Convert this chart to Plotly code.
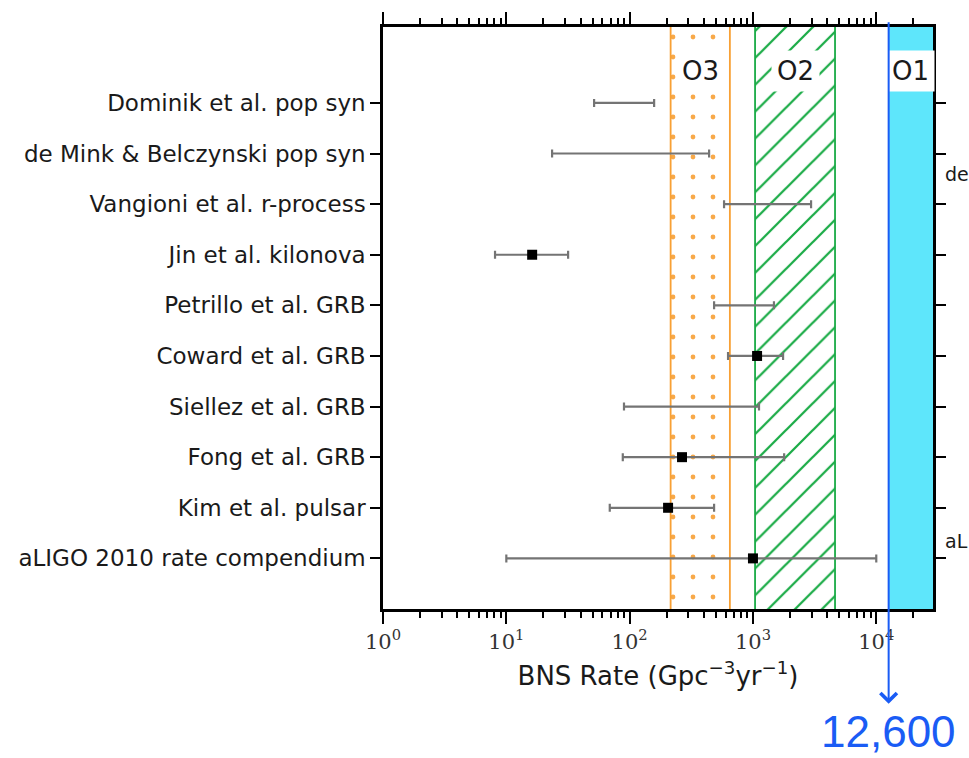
import numpy as np
import plotly.graph_objects as go

# Published BNS merger-rate estimates (Gpc^-3 yr^-1), top row first
studies = [
    "Dominik et al. pop syn",
    "de Mink & Belczynski pop syn",
    "Vangioni et al. r-process",
    "Jin et al. kilonova",
    "Petrillo et al. GRB",
    "Coward et al. GRB",
    "Siellez et al. GRB",
    "Fong et al. GRB",
    "Kim et al. pulsar",
    "aLIGO 2010 rate compendium",
]
rate_low = [51.5, 23.5, 583, 8.1, 484, 628, 90, 88, 69, 10]
rate_high = [158, 441, 2960, 31.7, 1480, 1755, 1120, 1790, 484, 10000]
rate_central = [None, None, None, 16.2, None, 1080, None, 266, 205, 1000]

# Observing-run sensitivity bands
o3_band = [215, 650]
o2_band = [1040, 4630]
o1_limit = 12600

x_tick_vals = [1, 10, 100, 1000, 10000]
x_tick_text = ["10<sup>0</sup>", "10<sup>1</sup>", "10<sup>2</sup>", "10<sup>3</sup>", "10<sup>4</sup>"]

X_MAX_LOG = 4.46
ORANGE = "#f8a035"
GREEN = "#1aab46"
CYAN = "#5ee6fb"
BLUE = "#1a5cf5"
SANS = "DejaVu Sans"
SERIF = "DejaVu Serif"

n = len(studies)
row_y = [n - i for i in range(n)]  # top row highest

fig = go.Figure()


def band(x0, x1, **kw):
    return go.Scatter(
        x=[x0, x1, x1, x0, x0],
        y=[-1, -1, n + 3, n + 3, -1],
        mode="lines",
        fill="toself",
        hoverinfo="skip",
        showlegend=False,
        **kw,
    )


fig.add_trace(band(o1_limit, 10 ** (X_MAX_LOG + 1), line=dict(width=0), fillcolor=CYAN))
fig.add_trace(band(
    o2_band[0], o2_band[1],
    line=dict(color=GREEN, width=1.8),
    fillcolor="rgba(0,0,0,0)",
    fillpattern=dict(shape="/", fgcolor=GREEN, fgopacity=1, bgcolor="white",
                     size=19, solidity=0.12),
))
fig.add_trace(band(
    o3_band[0], o3_band[1],
    line=dict(color=ORANGE, width=1.8),
    fillcolor="rgba(0,0,0,0)",
    fillpattern=dict(shape=".", fgcolor=ORANGE, fgopacity=0.9, bgcolor="white",
                     size=20, solidity=0.045),
))

# Ranges: anchored at the geometric middle, whiskers to the quoted bounds
mid = [np.sqrt(lo * hi) for lo, hi in zip(rate_low, rate_high)]
fig.add_trace(go.Scatter(
    x=mid,
    y=row_y,
    mode="markers",
    marker=dict(size=1, opacity=0),
    error_x=dict(
        type="data",
        symmetric=False,
        array=[hi - m for hi, m in zip(rate_high, mid)],
        arrayminus=[m - lo for lo, m in zip(rate_low, mid)],
        color="#747474",
        thickness=2.2,
        width=4,
    ),
    hoverinfo="skip",
    showlegend=False,
))

# Central estimates
cx = [c for c in rate_central if c is not None]
cy = [y for c, y in zip(rate_central, row_y) if c is not None]
fig.add_trace(go.Scatter(
    x=cx,
    y=cy,
    mode="markers",
    marker=dict(symbol="square", size=10, color="black"),
    showlegend=False,
))

# Run labels
label_font = dict(family=SANS, size=26, color="#1a1a1a")
for text, xl in [
    ("O3", np.log10(o3_band).mean()),
    ("O2", np.log10(o2_band).mean()),
    ("O1", (np.log10(o1_limit) + X_MAX_LOG) / 2),
]:
    fig.add_annotation(
        x=xl, y=0.925, xref="x", yref="paper", yanchor="middle", text=text,
        showarrow=False, font=label_font, bgcolor="white", borderpad=5,
    )

# O1 upper-limit marker
fig.add_annotation(
    x=np.log10(o1_limit), y=-0.163, xref="x", yref="paper",
    ax=0, ay=-683, axref="pixel", ayref="pixel",
    text="", showarrow=True, arrowhead=4, arrowsize=1.6, arrowwidth=2, arrowcolor=BLUE,
)
fig.add_annotation(
    x=np.log10(o1_limit), y=-0.21, xref="x", yref="paper",
    text=f"{o1_limit:,}", showarrow=False, yanchor="middle",
    font=dict(family="Liberation Sans", size=44, color=BLUE),
)

# Neighbouring panel labels at the right edge
for text, yy in [("de", 8.6), ("aL", 1.35)]:
    fig.add_annotation(
        x=1.0, y=yy, xref="paper", yref="y", xshift=10, xanchor="left",
        text=text, showarrow=False, font=dict(family=SANS, size=19, color="#1a1a1a"),
    )

fig.update_xaxes(
    type="log",
    range=[0, X_MAX_LOG],
    tickmode="array",
    tickvals=x_tick_vals,
    ticktext=x_tick_text,
    ticks="outside",
    ticklen=12,
    tickwidth=2,
    tickcolor="black",
    minor=dict(ticks="outside", ticklen=6, tickwidth=2, tickcolor="black", dtick="D1", showgrid=False),
    showline=True,
    linecolor="black",
    linewidth=2.5,
    mirror="allticks",
    showgrid=False,
    zeroline=False,
    tickfont=dict(family=SERIF, size=21, color="#333333"),
    title=dict(
        text="BNS Rate (Gpc<sup>\u22123</sup>yr<sup>\u22121</sup>)",
        font=dict(family=SANS, size=26, color="#1a1a1a"),
        standoff=14,
    ),
)
fig.update_yaxes(
    range=[0, n + 1.5],
    tickmode="array",
    tickvals=row_y,
    ticktext=studies,
    ticks="outside",
    ticklen=10,
    tickwidth=2,
    tickcolor="black",
    showline=True,
    linecolor="black",
    linewidth=2.5,
    mirror="allticks",
    showgrid=False,
    zeroline=False,
    tickfont=dict(family=SANS, size=23, color="#1a1a1a"),
)

fig.update_layout(
    width=969,
    height=758,
    margin=dict(l=383, r=36, t=22, b=149),
    paper_bgcolor="white",
    plot_bgcolor="white",
    showlegend=False,
)

fig.write_html("out.html")
